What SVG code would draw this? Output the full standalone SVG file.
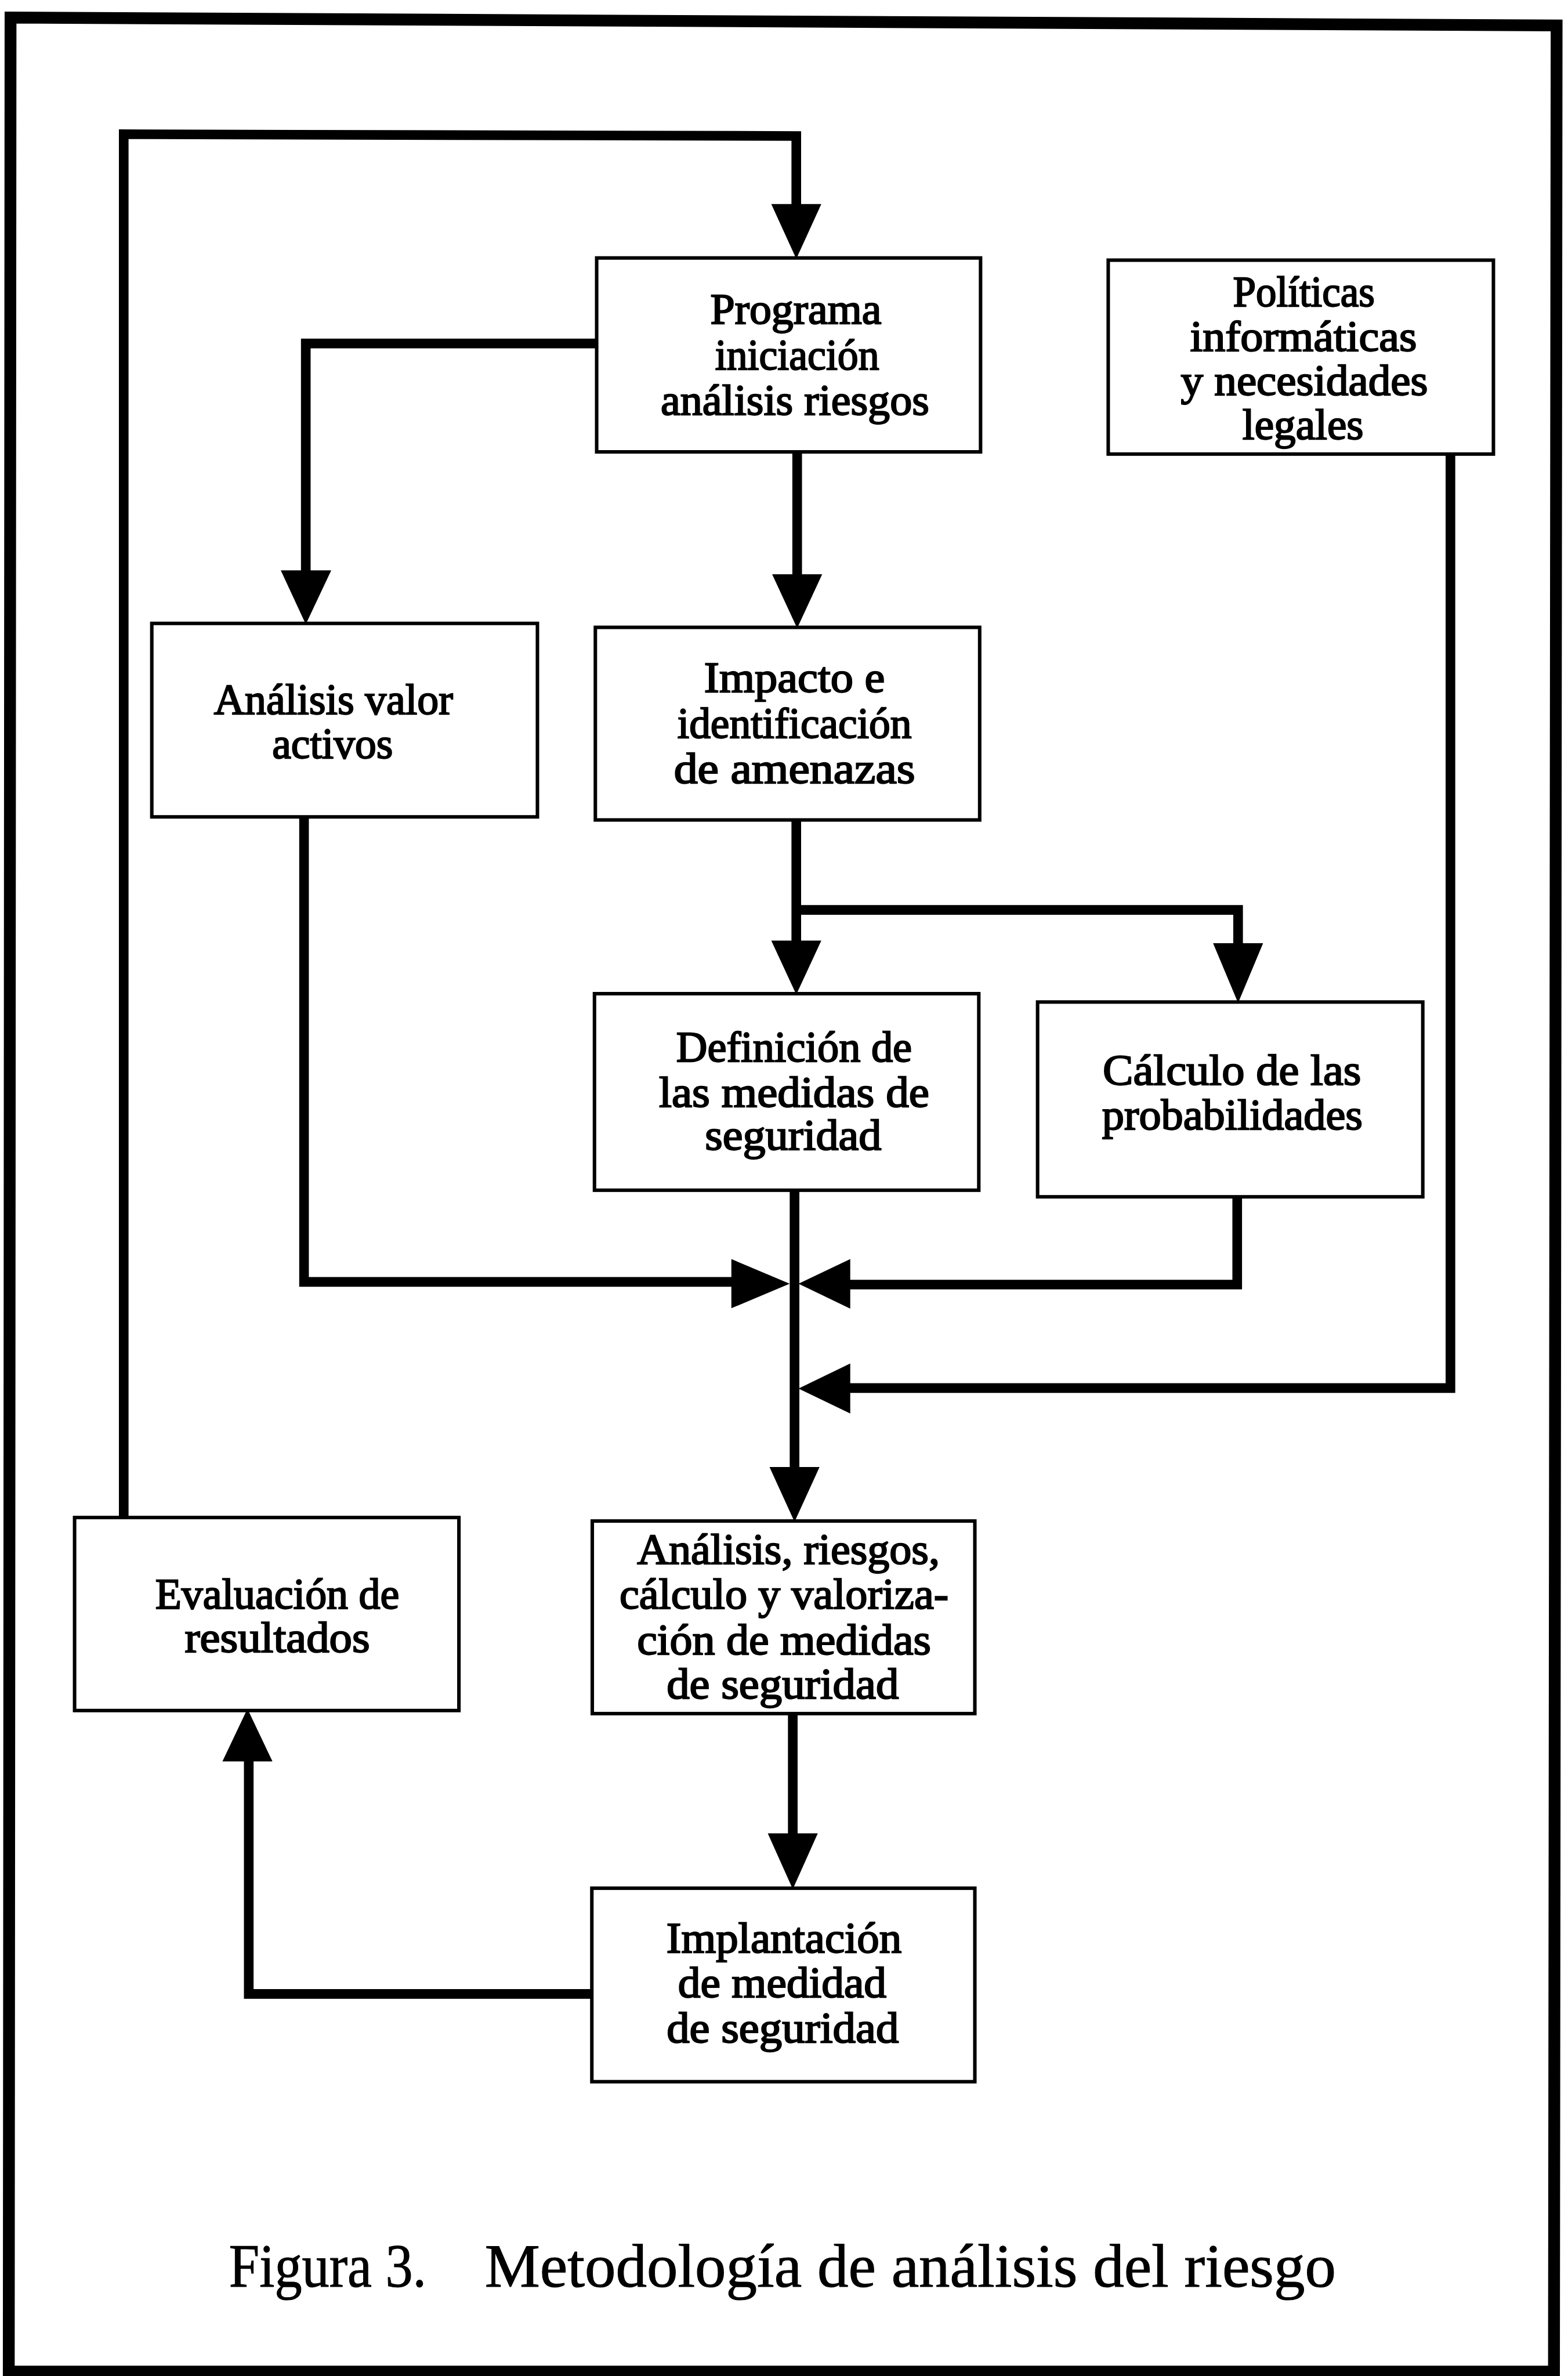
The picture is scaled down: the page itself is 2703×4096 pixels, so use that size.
<svg xmlns="http://www.w3.org/2000/svg" width="2703" height="4096" viewBox="0 0 2703 4096">
  <style>
    .box { fill: #ffffff; stroke: #000000; stroke-width: 8; }
    .wire { fill: none; stroke: #000000; stroke-width: 22; stroke-linejoin: miter; stroke-linecap: butt; }
    .head { fill: #000000; stroke: none; }
    .lbl { font-family: "Liberation Serif", "Times New Roman", serif; font-size: 98px; text-anchor: middle; fill: #000000; stroke: #000000; stroke-width: 3; }
    .title { font-family: "Liberation Serif", "Times New Roman", serif; font-size: 140px; fill: #000000; stroke: #000000; stroke-width: 1.5; }
  </style>
  <rect x="0" y="0" width="2703" height="4096" fill="#ffffff"/>
  <!-- drawing laid out in page units of 3574 x 5416, scaled to the window -->
  <g transform="scale(0.7563)">
    <!-- page frame -->
    <polygon id="frame" points="24,40 3548,58 3542,5406 20,5406" fill="none" stroke="#000000" stroke-width="27"/>

    <!-- connectors -->
    <g id="connectors">
      <!-- feedback loop: Evaluación -> Programa -->
      <path class="wire" d="M282,3459 L282,306 L1815,310 L1815,470"/>
      <polygon class="head" points="1758,465 1872,465 1815,590"/>
      <!-- Programa -> Análisis valor activos -->
      <path class="wire" d="M1360,783 L697,783 L697,1305"/>
      <polygon class="head" points="640,1300 755,1300 697,1423"/>
      <!-- Programa -> Impacto -->
      <path class="wire" d="M1817,1030 L1817,1312"/>
      <polygon class="head" points="1760,1309 1874,1309 1817,1432"/>
      <!-- Impacto -> Definición / Cálculo -->
      <path class="wire" d="M1815,1869 L1815,2150"/>
      <polygon class="head" points="1758,2144 1872,2144 1815,2267"/>
      <path class="wire" d="M1815,2074 L2822,2074 L2822,2155"/>
      <polygon class="head" points="2765,2150 2879,2150 2822,2286"/>
      <!-- Definición -> Análisis, riesgos -->
      <path class="wire" d="M1811,2713 L1811,3350"/>
      <polygon class="head" points="1754,3344 1868,3344 1811,3469"/>
      <!-- Análisis valor activos -> junction -->
      <path class="wire" d="M693,1860 L693,2922 L1670,2922"/>
      <polygon class="head" points="1667,2870 1667,2982 1800,2926"/>
      <!-- Cálculo -> junction -->
      <path class="wire" d="M2820,2728 L2820,2928 L1935,2928"/>
      <polygon class="head" points="1938,2870 1938,2983 1820,2926"/>
      <!-- Políticas -> junction -->
      <path class="wire" d="M3306,1035 L3306,3164 L1935,3164"/>
      <polygon class="head" points="1938,3108 1938,3222 1820,3165"/>
      <!-- Análisis, riesgos -> Implantación -->
      <path class="wire" d="M1807,3905 L1807,4185"/>
      <polygon class="head" points="1750,4179 1864,4179 1807,4306"/>
      <!-- Implantación -> Evaluación -->
      <path class="wire" d="M1349,4545 L567,4545 L567,4010"/>
      <polygon class="head" points="507,4015 621,4015 564,3895"/>
    </g>

    <!-- nodes -->
    <g id="programa">
      <rect class="box" x="1360" y="588" width="875" height="442"/>
      <text class="lbl" x="1814" y="738" textLength="390" lengthAdjust="spacingAndGlyphs">Programa</text>
      <text class="lbl" x="1817" y="842" textLength="374" lengthAdjust="spacingAndGlyphs">iniciación</text>
      <text class="lbl" x="1812" y="946" textLength="612" lengthAdjust="spacingAndGlyphs">análisis riesgos</text>
    </g>
    <g id="politicas">
      <rect class="box" x="2526" y="593" width="878" height="442"/>
      <text class="lbl" x="2972" y="698" textLength="323" lengthAdjust="spacingAndGlyphs">Políticas</text>
      <text class="lbl" x="2971" y="800" textLength="517" lengthAdjust="spacingAndGlyphs">informáticas</text>
      <text class="lbl" x="2973" y="901" textLength="563" lengthAdjust="spacingAndGlyphs">y necesidades</text>
      <text class="lbl" x="2970" y="1001" textLength="276" lengthAdjust="spacingAndGlyphs">legales</text>
    </g>
    <g id="valor-activos">
      <rect class="box" x="346" y="1421" width="879" height="441"/>
      <text class="lbl" x="760" y="1628" textLength="545" lengthAdjust="spacingAndGlyphs">Análisis valor</text>
      <text class="lbl" x="758" y="1728" textLength="275" lengthAdjust="spacingAndGlyphs">activos</text>
    </g>
    <g id="impacto">
      <rect class="box" x="1357" y="1430" width="876" height="439"/>
      <text class="lbl" x="1811" y="1578" textLength="412" lengthAdjust="spacingAndGlyphs">Impacto e</text>
      <text class="lbl" x="1811" y="1682" textLength="534" lengthAdjust="spacingAndGlyphs">identificación</text>
      <text class="lbl" x="1811" y="1785" textLength="550" lengthAdjust="spacingAndGlyphs">de amenazas</text>
    </g>
    <g id="definicion">
      <rect class="box" x="1355" y="2265" width="876" height="448"/>
      <text class="lbl" x="1810" y="2420" textLength="537" lengthAdjust="spacingAndGlyphs">Definición de</text>
      <text class="lbl" x="1810" y="2523" textLength="616" lengthAdjust="spacingAndGlyphs">las medidas de</text>
      <text class="lbl" x="1808" y="2621" textLength="402" lengthAdjust="spacingAndGlyphs">seguridad</text>
    </g>
    <g id="calculo">
      <rect class="box" x="2365" y="2284" width="878" height="444"/>
      <text class="lbl" x="2808" y="2472" textLength="589" lengthAdjust="spacingAndGlyphs">Cálculo de las</text>
      <text class="lbl" x="2809" y="2575" textLength="594" lengthAdjust="spacingAndGlyphs">probabilidades</text>
    </g>
    <g id="evaluacion">
      <rect class="box" x="170" y="3459" width="876" height="440"/>
      <text class="lbl" x="632" y="3666" textLength="556" lengthAdjust="spacingAndGlyphs">Evaluación de</text>
      <text class="lbl" x="632" y="3766" textLength="422" lengthAdjust="spacingAndGlyphs">resultados</text>
    </g>
    <g id="analisis-riesgos">
      <rect class="box" x="1350" y="3467" width="872" height="439"/>
      <text class="lbl" x="1797" y="3565" textLength="690" lengthAdjust="spacingAndGlyphs">Análisis, riesgos,</text>
      <text class="lbl" x="1787" y="3666" textLength="750" lengthAdjust="spacingAndGlyphs">cálculo y valoriza-</text>
      <text class="lbl" x="1787" y="3771" textLength="670" lengthAdjust="spacingAndGlyphs">ción de medidas</text>
      <text class="lbl" x="1784" y="3871" textLength="529" lengthAdjust="spacingAndGlyphs">de seguridad</text>
    </g>
    <g id="implantacion">
      <rect class="box" x="1349" y="4304" width="873" height="441"/>
      <text class="lbl" x="1787" y="4450" textLength="536" lengthAdjust="spacingAndGlyphs">Implantación</text>
      <text class="lbl" x="1783" y="4553" textLength="475" lengthAdjust="spacingAndGlyphs">de medidad</text>
      <text class="lbl" x="1784" y="4656" textLength="529" lengthAdjust="spacingAndGlyphs">de seguridad</text>
    </g>

    <!-- caption -->
    <g id="caption">
      <text class="title" x="522" y="5212" textLength="450" lengthAdjust="spacingAndGlyphs">Figura 3.</text>
      <text class="title" x="1105" y="5212" textLength="1940" lengthAdjust="spacingAndGlyphs">Metodología de análisis del riesgo</text>
    </g>
  </g>
</svg>
